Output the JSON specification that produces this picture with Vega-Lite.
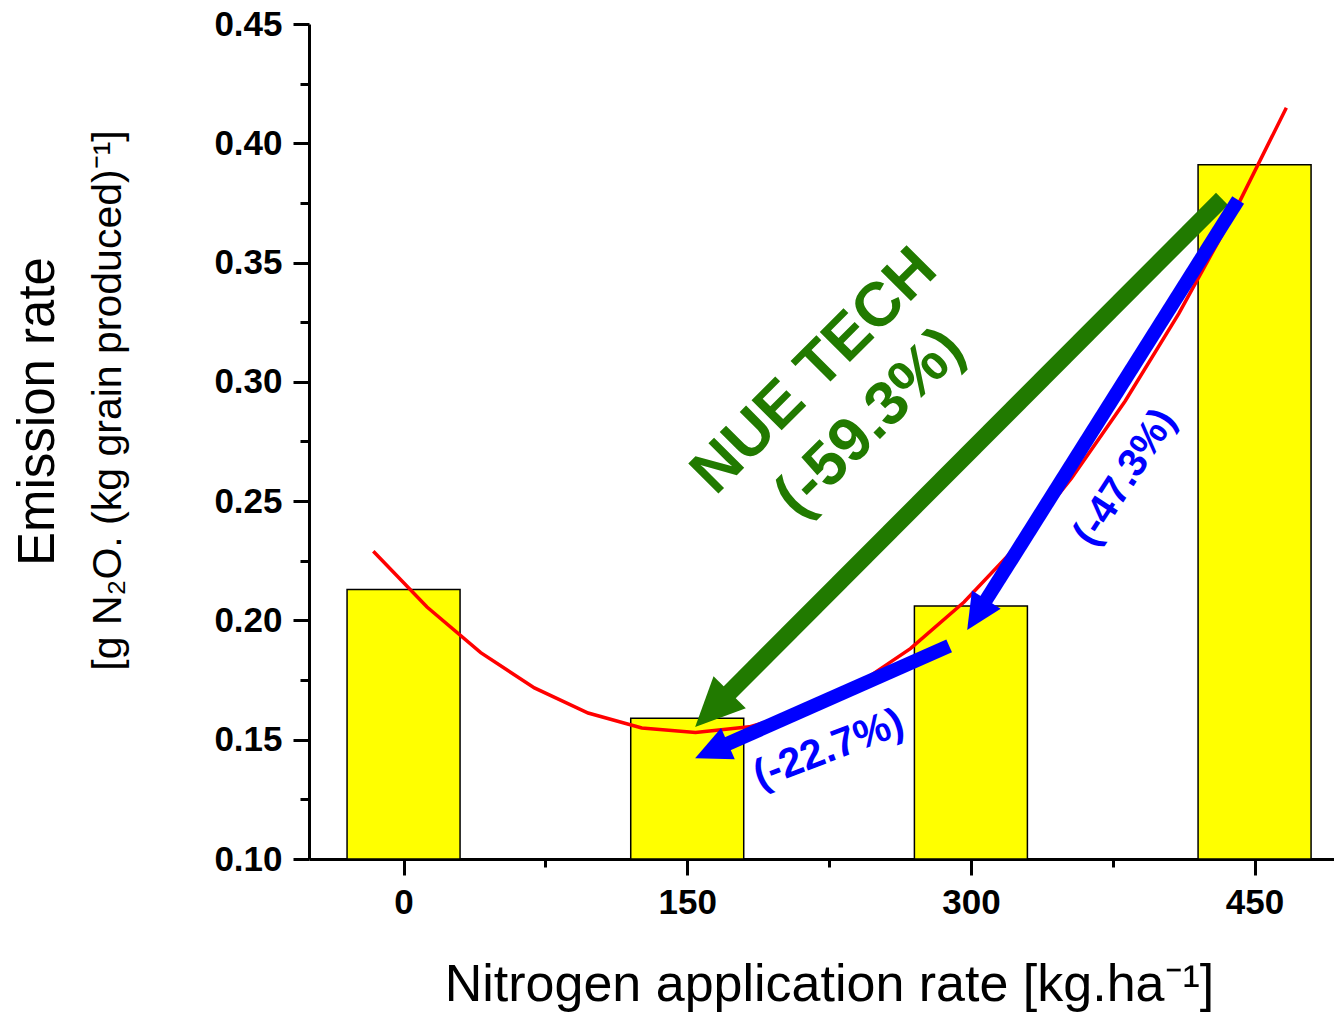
{
  "$schema": "https://vega.github.io/schema/vega-lite/v6.json",
  "autosize": {"type": "none"},
  "padding": {"left": 309, "top": 24, "right": 0, "bottom": 154},
  "width": 1025,
  "height": 835,
  "config": {"view": {"stroke": null}, "font": "Liberation Sans", "scale": {"continuousPadding": 0}},
  "datasets": {
    "bars": [
      {"rate": 0, "emission": 0.213},
      {"rate": 150, "emission": 0.159},
      {"rate": 300, "emission": 0.206},
      {"rate": 450, "emission": 0.391}
    ],
    "curve": [
      {"rate": -16, "emission": 0.229},
      {"rate": 12.4, "emission": 0.2056},
      {"rate": 40.8, "emission": 0.1865},
      {"rate": 69.2, "emission": 0.1717},
      {"rate": 97.6, "emission": 0.1612},
      {"rate": 126, "emission": 0.1549},
      {"rate": 154.4, "emission": 0.153},
      {"rate": 182.8, "emission": 0.1554},
      {"rate": 211.2, "emission": 0.162},
      {"rate": 239.6, "emission": 0.173},
      {"rate": 268, "emission": 0.1882},
      {"rate": 296.4, "emission": 0.2077},
      {"rate": 324.8, "emission": 0.2315},
      {"rate": 353.2, "emission": 0.2596},
      {"rate": 381.6, "emission": 0.292},
      {"rate": 410, "emission": 0.3287},
      {"rate": 438.4, "emission": 0.3697},
      {"rate": 466.8, "emission": 0.4149}
    ],
    "arrows": [
      {"arrow": "nue", "rate": 432.8, "emission": 0.3767, "rate_end": 172.1, "emission_end": 0.1696},
      {"arrow": "a47", "rate": 441.3, "emission": 0.3762, "rate_end": 307.9, "emission_end": 0.2084},
      {"arrow": "a22", "rate": 288.5, "emission": 0.1893, "rate_end": 171.1, "emission_end": 0.1482}
    ],
    "labels": [
      {"group": "green", "label": "NUE TECH", "rate": 224.2, "emission": 0.2989},
      {"group": "green", "label": "(-59.3%)", "rate": 253.6, "emission": 0.2773},
      {"group": "b47", "label": "(-47.3%)", "rate": 386.8, "emission": 0.2572},
      {"group": "b22", "label": "(-22.7%)", "rate": 227.1, "emission": 0.1412}
    ]
  },
  "resolve": {"axis": {"y": "independent"}},
  "layer": [
    {
      "data": {"name": "bars"},
      "mark": {"type": "bar", "width": 113, "fill": "#FFFF00", "stroke": "#000000", "strokeWidth": 1.5},
      "encoding": {
        "x": {
          "field": "rate", "type": "quantitative",
          "scale": {"domain": [-50, 492], "nice": false, "zero": false, "padding": 0},
          "axis": {
            "title": "Nitrogen application rate [kg.ha⁻¹]",
            "values": [0, 75, 150, 225, 300, 375, 450],
            "labelExpr": "datum.value % 150 === 0 ? datum.label : ''",
            "tickSize": {"condition": {"test": "datum.value % 150 === 0", "value": 16}, "value": 8},
            "tickWidth": 3, "tickColor": "#000000",
            "domainWidth": 3, "domainColor": "#000000",
            "labelFont": "Liberation Sans", "labelFontSize": 35, "labelFontWeight": "bold", "labelColor": "#000000",
            "labelPadding": 10, "labelFlush": false,
            "grid": false,
            "titleFont": "Liberation Sans", "titleFontSize": 52, "titleFontWeight": "normal", "titleColor": "#000000",
            "titleX": 520, "titleY": 141, "titleBaseline": "alphabetic", "titleAlign": "center", "titleAnchor": null
          }
        },
        "y": {
          "field": "emission", "type": "quantitative",
          "scale": {"domain": [0.1, 0.45], "nice": false, "zero": false},
          "axis": {
            "orient": "left",
            "title": "Emission rate",
            "values": [0.1, 0.125, 0.15, 0.175, 0.2, 0.225, 0.25, 0.275, 0.3, 0.325, 0.35, 0.375, 0.4, 0.425, 0.45],
            "format": ".2f",
            "labelExpr": "abs(datum.value*20 - round(datum.value*20)) < 0.001 ? datum.label : ''",
            "tickSize": {"condition": {"test": "abs(datum.value*20 - round(datum.value*20)) < 0.001", "value": 16}, "value": 9},
            "tickWidth": 3, "tickColor": "#000000",
            "domainWidth": 3, "domainColor": "#000000",
            "labelFont": "Liberation Sans", "labelFontSize": 35, "labelFontWeight": "bold", "labelColor": "#000000",
            "labelPadding": 11, "labelFlush": false,
            "grid": false,
            "titleFont": "Liberation Sans", "titleFontSize": 51, "titleFontWeight": "normal", "titleColor": "#000000",
            "titleAngle": 270, "titleX": -256, "titleY": 387, "titleBaseline": "alphabetic", "titleAlign": "center", "titleAnchor": null
          }
        },
        "y2": {"datum": 0.1}
      }
    },
    {
      "data": {"name": "curve"},
      "mark": {"type": "line", "color": "#FF0000", "strokeWidth": 3.5},
      "encoding": {
        "x": {"field": "rate", "type": "quantitative"},
        "y": {
          "field": "emission", "type": "quantitative",
          "axis": {
            "orient": "left",
            "title": "[g N₂O. (kg grain produced)⁻¹]",
            "labels": false, "ticks": false, "domain": false, "grid": false,
            "titleFont": "Liberation Sans", "titleFontSize": 41, "titleFontWeight": "normal", "titleColor": "#000000",
            "titleAngle": 270, "titleX": -189, "titleY": 376, "titleBaseline": "alphabetic", "titleAlign": "center", "titleAnchor": null
          }
        }
      }
    },
    {
      "mark": {"type": "rule", "color": "#000000", "strokeWidth": 3},
      "encoding": {"y": {"datum": 0.45, "type": "quantitative", "axis": null}}
    },
    {
      "data": {"name": "arrows"},
      "transform": [{"filter": "datum.arrow === 'nue'"}],
      "mark": {"type": "rule", "color": "#217A00", "strokeWidth": 17, "strokeCap": "butt"},
      "encoding": {
        "x": {"field": "rate", "type": "quantitative"},
        "y": {"field": "emission", "type": "quantitative", "axis": null},
        "x2": {"field": "rate_end"},
        "y2": {"field": "emission_end"}
      }
    },
    {
      "data": {"name": "arrows"},
      "transform": [{"filter": "datum.arrow !== 'nue'"}],
      "mark": {"type": "rule", "color": "#0000FF", "strokeWidth": 14, "strokeCap": "butt"},
      "encoding": {
        "x": {"field": "rate", "type": "quantitative"},
        "y": {"field": "emission", "type": "quantitative", "axis": null},
        "x2": {"field": "rate_end"},
        "y2": {"field": "emission_end"}
      }
    },
    {
      "data": {"name": "arrows"},
      "transform": [{"filter": "datum.arrow === 'nue'"}],
      "mark": {"type": "point", "shape": "M0,-2 L0.95,0.04 L-0.95,0.04 Z", "size": 2304, "angle": 224.9, "filled": true, "color": "#217A00", "opacity": 1, "strokeWidth": 0},
      "encoding": {
        "x": {"field": "rate_end", "type": "quantitative"},
        "y": {"field": "emission_end", "type": "quantitative", "axis": null}
      }
    },
    {
      "data": {"name": "arrows"},
      "transform": [{"filter": "datum.arrow === 'a47'"}],
      "mark": {"type": "point", "shape": "M0,-2 L0.97,0.05 L-0.97,0.05 Z", "size": 1225, "angle": 212.2, "filled": true, "color": "#0000FF", "opacity": 1, "strokeWidth": 0},
      "encoding": {
        "x": {"field": "rate_end", "type": "quantitative"},
        "y": {"field": "emission_end", "type": "quantitative", "axis": null}
      }
    },
    {
      "data": {"name": "arrows"},
      "transform": [{"filter": "datum.arrow === 'a22'"}],
      "mark": {"type": "point", "shape": "M0,-2 L0.97,0.05 L-0.97,0.05 Z", "size": 1225, "angle": 246.2, "filled": true, "color": "#0000FF", "opacity": 1, "strokeWidth": 0},
      "encoding": {
        "x": {"field": "rate_end", "type": "quantitative"},
        "y": {"field": "emission_end", "type": "quantitative", "axis": null}
      }
    },
    {
      "data": {"name": "labels"},
      "transform": [{"filter": "datum.group === 'green'"}],
      "mark": {"type": "text", "font": "Liberation Sans", "fontSize": 62, "fontWeight": "bold", "color": "#217A00", "angle": -45, "align": "center", "baseline": "alphabetic"},
      "encoding": {
        "x": {"field": "rate", "type": "quantitative"},
        "y": {"field": "emission", "type": "quantitative", "axis": null},
        "text": {"field": "label"}
      }
    },
    {
      "data": {"name": "labels"},
      "transform": [{"filter": "datum.group === 'b47'"}],
      "mark": {"type": "text", "font": "Liberation Sans", "fontSize": 40, "fontWeight": "bold", "color": "#0000FF", "angle": -57, "align": "center", "baseline": "alphabetic"},
      "encoding": {
        "x": {"field": "rate", "type": "quantitative"},
        "y": {"field": "emission", "type": "quantitative", "axis": null},
        "text": {"field": "label"}
      }
    },
    {
      "data": {"name": "labels"},
      "transform": [{"filter": "datum.group === 'b22'"}],
      "mark": {"type": "text", "font": "Liberation Sans", "fontSize": 41, "fontWeight": "bold", "color": "#0000FF", "angle": -21, "align": "center", "baseline": "alphabetic"},
      "encoding": {
        "x": {"field": "rate", "type": "quantitative"},
        "y": {"field": "emission", "type": "quantitative", "axis": null},
        "text": {"field": "label"}
      }
    }
  ]
}
